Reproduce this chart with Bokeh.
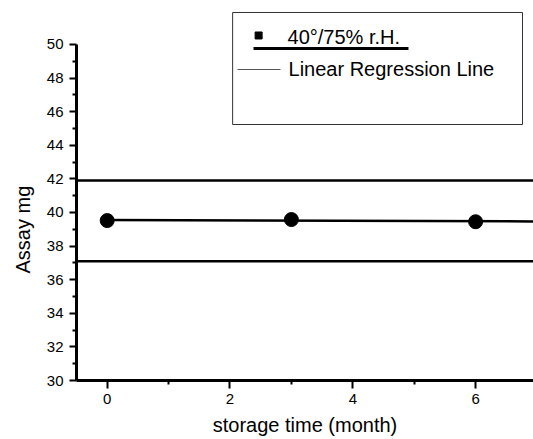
import numpy as np
from bokeh.plotting import figure
from bokeh.models import FixedTicker, Span, Range1d, Title
from bokeh.core.properties import value
from bokeh.embed import file_html
from bokeh.resources import INLINE

# data
months = [0, 3, 6]
assay = [39.52, 39.58, 39.45]
upper_limit = 41.9
lower_limit = 37.1
x_ticks = [0, 2, 4, 6]
x_minor = [1, 3, 5]
y_ticks = list(range(30, 51, 2))
y_minor = list(range(31, 50, 2))
series_label = "40°/75% r.H."
fit_label = "Linear Regression Line"

FONT = "Liberation Sans"

p = figure(frame_width=457, frame_height=380, output_backend="svg", toolbar_location=None,
           x_range=Range1d(-0.5, 6.943), y_range=Range1d(30, 52.619),
           min_border_left=76, min_border_right=0, min_border_top=0, min_border_bottom=59)
p.outline_line_color = None
p.xgrid.visible = False
p.ygrid.visible = False
p.background_fill_color = "white"
p.border_fill_color = "white"

for ax in (p.xaxis, p.yaxis):
    ax.axis_line_width = 3
    ax.axis_line_color = "black"
    ax.major_tick_line_width = 2
    ax.minor_tick_line_width = 2
    ax.major_tick_in = 0
    ax.minor_tick_in = 0
    ax.major_label_text_font = FONT
    ax.major_label_text_font_size = "15px"
    ax.major_label_text_color = "black"
    ax.axis_label_text_font = FONT
    ax.axis_label_text_font_size = "20px"
    ax.axis_label_text_font_style = "normal"
    ax.axis_label_text_color = "black"

p.xaxis.ticker = FixedTicker(ticks=x_ticks, minor_ticks=x_minor)
p.yaxis.ticker = FixedTicker(ticks=y_ticks, minor_ticks=y_minor)
p.xaxis.major_tick_out = 8
p.xaxis.minor_tick_out = 4
p.yaxis.major_tick_out = 7
p.yaxis.minor_tick_out = 4
p.xaxis.major_label_standoff = 5
p.yaxis.major_label_standoff = 6
p.yaxis.bounds = (30, 50)
p.xaxis.axis_label = "storage time (month)"
p.xaxis.axis_label_standoff = 7
p.yaxis.axis_label = None

# y axis title
ytitle = Title(text="Assay mg", align="left", offset=107, standoff=19,
               text_font=FONT, text_font_size="20px", text_font_style="normal", text_color="black")
p.add_layout(ytitle, "left")

# limit lines
p.add_layout(Span(location=upper_limit, dimension="width", line_color="black", line_width=2.5))
p.add_layout(Span(location=lower_limit, dimension="width", line_color="black", line_width=2.5))

# regression line
b, a = np.polyfit(months, assay, 1)
fx = np.array([0, 7.0])
p.line(fx, a + b * fx, line_color="black", line_width=2.5)

# data points
p.scatter(months, assay, size=14, color="black", marker="circle")

# legend (drawn manually)
p.quad(left=[2.043], right=[6.764], bottom=[45.238], top=[51.905],
       fill_color="white", fill_alpha=1, line_color="#333333", line_width=1)
p.scatter([2.466], [50.536], marker="square", size=7, color="black")
p.text([2.937], [50.476], text=[series_label], text_font=value(FONT), text_font_size="20px",
       text_baseline="alphabetic", text_color="black")
p.line([2.383, 4.907], [49.762, 49.762], line_color="black", line_width=3)
p.line([2.122, 2.822], [48.512, 48.512], line_color="#555555", line_width=1)
p.text([2.953], [48.512], text=[fit_label], text_font=value(FONT), text_font_size="20px",
       text_baseline="alphabetic", text_color="black")

open("out.html", "w").write(file_html(p, INLINE))
